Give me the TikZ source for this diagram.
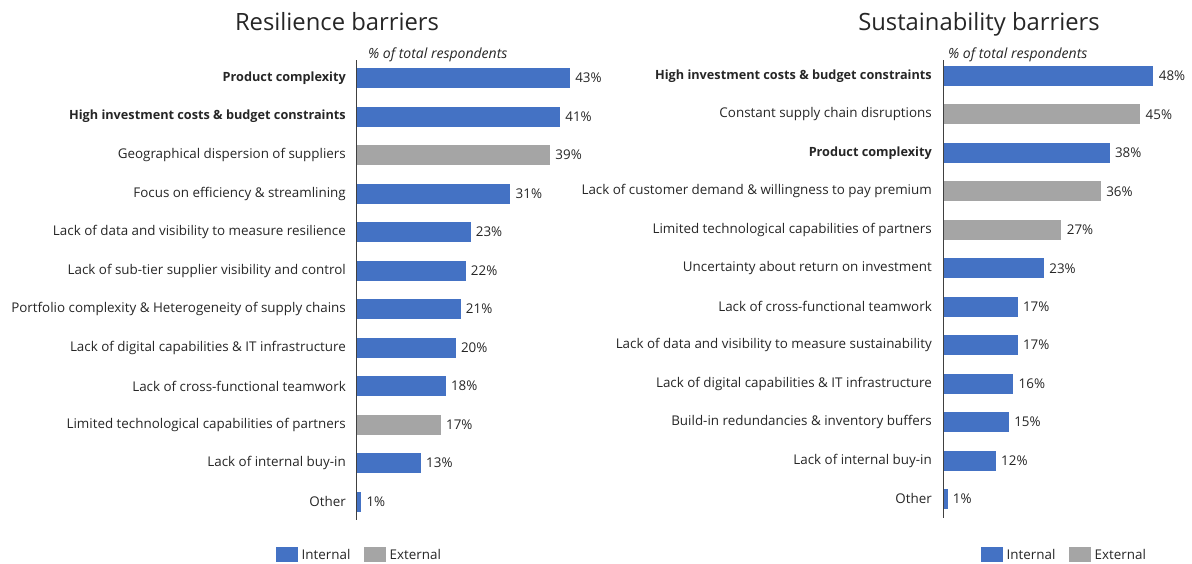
\documentclass[tikz,border=0pt]{standalone}
\usepackage{fontspec}
\setmainfont{Open Sans}
\definecolor{intblue}{HTML}{4472C4}
\definecolor{extgrey}{HTML}{A5A5A5}
\definecolor{axisgrey}{HTML}{404040}
\definecolor{txt}{HTML}{262626}
\newcommand\boldlbl[1]{{\fontsize{12.7}{15}\selectfont\bfseries #1}}
\begin{document}
\begin{tikzpicture}[x=1pt,y=-1pt,font=\fontsize{13.4}{16}\selectfont,text=txt,
  bar/.style={inner sep=0pt,minimum height=20pt,anchor=west},
  lbl/.style={anchor=east,inner sep=0pt},
  pct/.style={anchor=west,inner sep=0pt},
  ttl/.style={anchor=base,font=\fontsize{23.8}{28}\selectfont},
  sub/.style={anchor=base west,inner sep=0pt,font=\fontsize{14}{16}\selectfont\itshape},
  key/.style={inner sep=0pt,minimum width=22pt,minimum height=15pt}]
\useasboundingbox (0,0) rectangle (1192,563);

	%titles
	\node[ttl] (rtitle) at (337,30) {Resilience barriers};
	\node[ttl] (stitle) at (979,30) {Sustainability barriers};
	\node[sub] (rsub) at (368,58) {\% of total respondents};
	\node[sub] (ssub) at (948,58) {\% of total respondents};

	%resilience bars
	\foreach \i/\v/\col/\t in {
	  0/43/intblue/\boldlbl{Product complexity},
	  1/41/intblue/\boldlbl{High investment costs \& budget constraints},
	  2/39/extgrey/Geographical dispersion of suppliers,
	  3/31/intblue/Focus on efficiency \& streamlining,
	  4/23/intblue/Lack of data and visibility to measure resilience,
	  5/22/intblue/Lack of sub-tier supplier visibility and control,
	  6/21/intblue/Portfolio complexity \& Heterogeneity of supply chains,
	  7/20/intblue/Lack of digital capabilities \& IT infrastructure,
	  8/18/intblue/Lack of cross-functional teamwork,
	  9/17/extgrey/Limited technological capabilities of partners,
	  10/13/intblue/Lack of internal buy-in,
	  11/1/intblue/Other}{
	  \node[bar,fill=\col,minimum width=\v*4.97pt] (rb\i) at (356,78+38.5*\i) {};
	  \node[pct] (rp\i) at ([xshift=5pt]rb\i.east) {\v\%};
	  \node[lbl] (rl\i) at ([xshift=-10pt]rb\i.west) {\t};
	}
	\draw[axisgrey,semithick] (356,60) -- (356,520); %axis

	%sustainability bars
	\foreach \i/\v/\col/\t in {
	  0/48/intblue/\boldlbl{High investment costs \& budget constraints},
	  1/45/extgrey/Constant supply chain disruptions,
	  2/38/intblue/\boldlbl{Product complexity},
	  3/36/extgrey/Lack of customer demand \& willingness to pay premium,
	  4/27/extgrey/Limited technological capabilities of partners,
	  5/23/intblue/Uncertainty about return on investment,
	  6/17/intblue/Lack of cross-functional teamwork,
	  7/17/intblue/Lack of data and visibility to measure sustainability,
	  8/16/intblue/Lack of digital capabilities \& IT infrastructure,
	  9/15/intblue/Build-in redundancies \& inventory buffers,
	  10/12/intblue/Lack of internal buy-in,
	  11/1/intblue/Other}{
	  \node[bar,fill=\col,minimum width=\v*4.38pt] (sb\i) at (943,76+38.45*\i) {};
	  \node[pct] (sp\i) at ([xshift=5pt]sb\i.east) {\v\%};
	  \node[lbl] (sl\i) at ([xshift=-11pt]sb\i.west) {\t};
	}
	\draw[axisgrey,semithick] (943,60) -- (943,518); %axis

	%legends
	\node[key,fill=intblue] (rki) at (287,554) {};
	\node[anchor=west] (rkit) at (rki.east) {Internal};
	\node[key,fill=extgrey] (rke) at (375,554) {};
	\node[anchor=west] (rket) at (rke.east) {External};
	\node[key,fill=intblue] (ski) at (992,554) {};
	\node[anchor=west] (skit) at (ski.east) {Internal};
	\node[key,fill=extgrey] (ske) at (1080,554) {};
	\node[anchor=west] (sket) at (ske.east) {External};
\end{tikzpicture}
\end{document}
